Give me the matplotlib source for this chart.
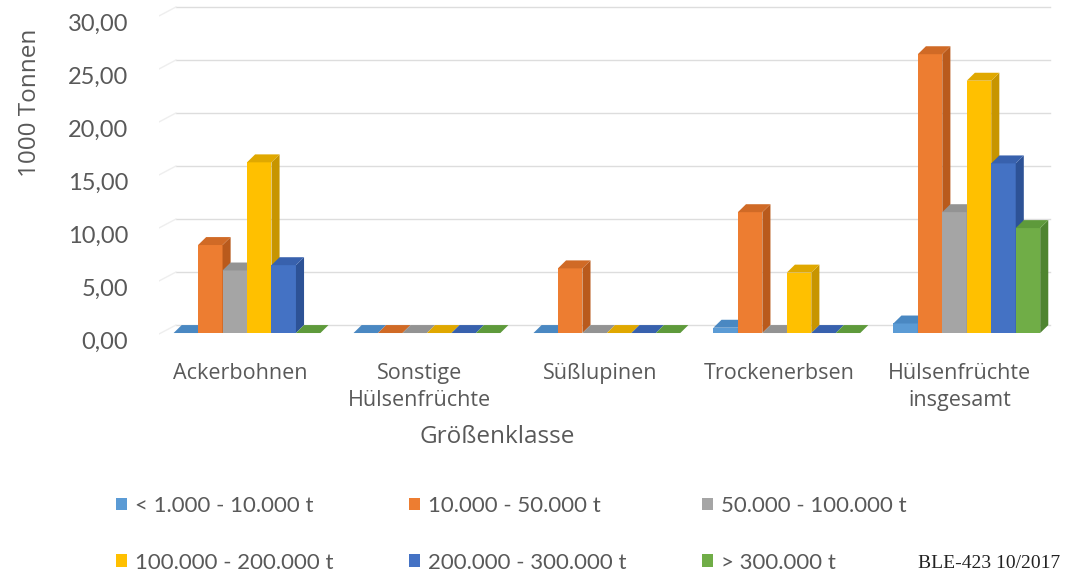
import matplotlib
matplotlib.use("Agg")
import matplotlib.pyplot as plt
from matplotlib.patches import Polygon, Patch
import matplotlib.transforms as mtransforms
import numpy as np

categories = ["Ackerbohnen", "Sonstige\nHülsenfrüchte", "Süßlupinen", "Trockenerbsen", "Hülsenfrüchte\ninsgesamt"]
series_labels = ["< 1.000 - 10.000 t", "10.000 - 50.000 t", "50.000 - 100.000 t",
                 "100.000 - 200.000 t", "200.000 - 300.000 t", "> 300.000 t"]
s_lt1000_10000 = [0.0, 0.0, 0.0, 0.5, 0.9]
s_10000_50000 = [8.3, 0.0, 6.1, 11.4, 26.3]
s_50000_100000 = [5.9, 0.0, 0.0, 0.0, 11.4]
s_100000_200000 = [16.1, 0.0, 0.0, 5.7, 23.8]
s_200000_300000 = [6.4, 0.0, 0.0, 0.0, 16.0]
s_gt300000 = [0.0, 0.0, 0.0, 0.0, 9.9]
series = [s_lt1000_10000, s_10000_50000, s_50000_100000, s_100000_200000, s_200000_300000, s_gt300000]
yticks = [0, 5, 10, 15, 20, 25, 30]
ytick_labels = ["0,00", "5,00", "10,00", "15,00", "20,00", "25,00", "30,00"]
x_title = "Größenklasse"
y_title = "1000 Tonnen"
source_note = "BLE-423 10/2017"

front_colors = ["#5B9BD5", "#ED7D31", "#A5A5A5", "#FFC000", "#4472C4", "#70AD47"]
side_colors = ["#3F78AE", "#B95A1C", "#7F7F7F", "#C79500", "#2D5296", "#4E8430"]
top_colors = ["#4A88C2", "#D06A26", "#939393", "#E0A800", "#3861AD", "#5E9A3B"]

TXT = "#595959"
plt.rcParams['font.family'] = ["Open Sans", "DejaVu Sans"]

fig = plt.figure(figsize=(10.66, 5.75), dpi=100)
ax = fig.add_axes([0.149, 0.4024, 0.844, 0.590])
ax.set_xlim(-0.45, 4.55)
ax.set_ylim(-1.0, 31.0)
for sp in ax.spines.values():
    sp.set_visible(False)

w = 0.136      # bar width (category units)
dx = 0.045     # depth offset x
dy = 0.75      # depth offset y (value units)
group_shift = 0.04

# back-wall gridlines
x_left, x_right = -0.40, 4.50
for v in yticks:
    ax.plot([x_left + dx, x_right], [v + dy, v + dy], color="#DDDDDD", lw=1.0, zorder=0)
    ax.plot([x_left - 0.05, x_left + dx], [v - 0.1, v + dy], color="#EEEEEE", lw=1.0, zorder=0)

x = np.arange(len(categories))
n = len(series)
z = 2
for i in range(len(categories)):
    for j in range(n):
        h = series[j][i]
        left = x[i] + group_shift - n * w / 2 + j * w
        ax.bar(left, h, width=w, align="edge", color=front_colors[j], edgecolor="none", zorder=z)
        ax.add_patch(Polygon([(left + w, 0), (left + w + dx, dy), (left + w + dx, h + dy), (left + w, h)],
                             closed=True, facecolor=side_colors[j], edgecolor="none", zorder=z))
        ax.add_patch(Polygon([(left, h), (left + w, h), (left + w + dx, h + dy), (left + dx, h + dy)],
                             closed=True, facecolor=top_colors[j], edgecolor="none", zorder=z))
        z += 1

ax.set_yticks(yticks)
ax.set_yticklabels(ytick_labels, family=["Lato", "DejaVu Sans"])
ax.tick_params(axis="y", length=0, pad=22, labelsize=17, labelcolor=TXT)
offset = mtransforms.ScaledTranslation(0, -0.07, fig.dpi_scale_trans)
for lab in ax.get_yticklabels():
    lab.set_transform(lab.get_transform() + offset)

ax.set_xticks(x)
ax.set_xticklabels(categories, linespacing=1.35)
ax.tick_params(axis="x", length=0, pad=14, labelsize=15.5, labelcolor=TXT)

fig.text(497 / 1066, 1 - 437 / 575, x_title, ha="center", va="center", fontsize=17.5, color=TXT)
fig.text(30 / 1066, 1 - 103 / 575, y_title, ha="center", va="center", rotation=90, fontsize=17.5, color=TXT)

handles = [Patch(facecolor=c, edgecolor="none") for c in front_colors]
order = [0, 3, 1, 4, 2, 5]
leg = fig.legend([handles[k] for k in order], [series_labels[k] for k in order],
                 ncol=3, loc="upper left", bbox_to_anchor=(96 / 1066, 1 - 476 / 575),
                 frameon=False, prop={"family": ["Lato", "DejaVu Sans"], "size": 16},
                 handlelength=0.5, handleheight=0.5,
                 handletextpad=0.35, columnspacing=3.4, labelspacing=1.65, labelcolor=TXT)

fig.text(1060 / 1066, 1 - 563 / 575, source_note, ha="right", va="center",
         fontsize=14, family=["Liberation Serif"], color="#222222")

fig.savefig("out.png", dpi=100, facecolor="white")
